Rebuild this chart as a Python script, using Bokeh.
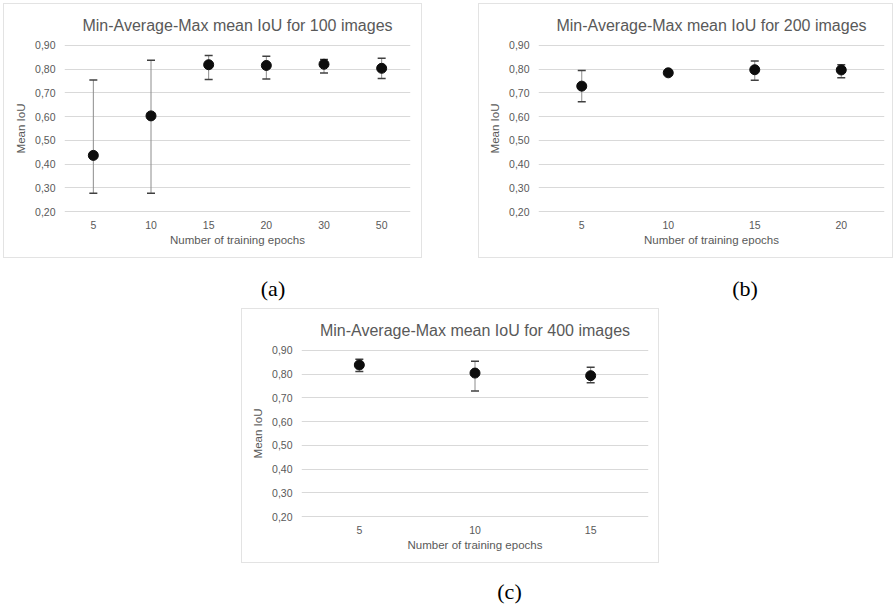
from bokeh.plotting import figure
from bokeh.models import (ColumnDataSource, Whisker, Range1d, Label, Spacer,
                          FactorRange, TeeHead)
from bokeh.layouts import row, column
from bokeh.embed import file_html
from bokeh.resources import INLINE

# ---------------- data ----------------
epochs_100 = ["5", "10", "15", "20", "30", "50"]
mean_100 = [0.437, 0.603, 0.818, 0.815, 0.820, 0.803]
min_100 = [0.278, 0.278, 0.756, 0.758, 0.783, 0.760]
max_100 = [0.754, 0.837, 0.857, 0.854, 0.840, 0.845]

epochs_200 = ["5", "10", "15", "20"]
mean_200 = [0.728, 0.784, 0.797, 0.796]
min_200 = [0.662, 0.781, 0.753, 0.763]
max_200 = [0.794, 0.787, 0.834, 0.818]

epochs_400 = ["5", "10", "15"]
mean_400 = [0.838, 0.804, 0.793]
min_400 = [0.811, 0.729, 0.763]
max_400 = [0.862, 0.854, 0.828]

titles = ["Min-Average-Max mean IoU for 100 images",
          "Min-Average-Max mean IoU for 200 images",
          "Min-Average-Max mean IoU for 400 images"]
captions = ["(a)", "(b)", "(c)"]
y_ticks = [0.2, 0.3, 0.4, 0.5, 0.6, 0.7, 0.8, 0.9]
y_tick_labels = ["0,20", "0,30", "0,40", "0,50", "0,60", "0,70", "0,80", "0,90"]
x_label = "Number of training epochs"
y_label = "Mean IoU"

FONT = "Liberation Sans"
TEXT = "#595959"
GRID = "#d9d9d9"
BORDER = "1px solid #e3e3e3"


def make_chart(cats, means, mins, maxs, title, width, left, right):
    p = figure(width=width, height=255, x_range=FactorRange(*cats),
               y_range=Range1d(0.197, 0.903), output_backend="svg",
               toolbar_location=None, min_border_left=left,
               min_border_right=right, min_border_top=40,
               min_border_bottom=47, styles={"border": BORDER,
                                              "box-sizing": "border-box"})
    p.title.text = title
    p.title.text_font = FONT
    p.title.text_font_size = "16px"
    p.title.text_font_style = "normal"
    p.title.text_color = TEXT
    p.title.align = "center"
    p.title.standoff = 21
    p.outline_line_color = None
    p.xgrid.grid_line_color = None
    p.ygrid.grid_line_color = GRID
    p.ygrid.ticker = y_ticks
    p.yaxis.ticker = y_ticks
    p.yaxis.major_label_overrides = {t: l for t, l in zip(y_ticks, y_tick_labels)}
    for ax in (p.xaxis[0], p.yaxis[0]):
        ax.axis_line_color = None
        ax.major_tick_line_color = None
        ax.minor_tick_line_color = None
        ax.major_tick_out = 0
        ax.major_tick_in = 0
        ax.minor_tick_out = 0
        ax.minor_tick_in = 0
        ax.major_label_text_font = FONT
        ax.major_label_text_font_size = "10.5px"
        ax.major_label_text_color = TEXT
        ax.axis_label_text_font = FONT
        ax.axis_label_text_font_size = "11.5px"
        ax.axis_label_text_font_style = "normal"
        ax.axis_label_text_color = TEXT
    p.xaxis.major_label_standoff = 8
    p.xaxis.axis_label = x_label
    p.xaxis.axis_label_standoff = 2
    p.yaxis.major_label_standoff = 9
    p.yaxis.axis_label = y_label
    p.yaxis.axis_label_standoff = 5

    src = ColumnDataSource(dict(x=cats, mean=means, lo=mins, hi=maxs))
    w = Whisker(base="x", lower="lo", upper="hi", source=src,
                line_color="#8c8c8c", line_width=1,
                lower_head=TeeHead(size=8, line_color="#404040", line_width=1.5),
                upper_head=TeeHead(size=8, line_color="#404040", line_width=1.5))
    p.add_layout(w)
    p.scatter("x", "mean", source=src, size=10, color="#0d0d0d")
    return p


def make_caption(text, width, height, ycenter):
    c = figure(width=width, height=height, output_backend="svg",
               toolbar_location=None, x_axis_type=None, y_axis_type=None,
               min_border=0, outline_line_color=None,
               x_range=Range1d(0, 1), y_range=Range1d(0, 1))
    c.grid.visible = False
    c.add_layout(Label(x=width / 2, y=ycenter, x_units="screen",
                       y_units="screen", text=text, text_align="center",
                       text_baseline="middle", text_font="Liberation Serif",
                       text_font_size="22px", text_color="#000000"))
    return c


pa = make_chart(epochs_100, mean_100, min_100, max_100, titles[0], 419, 60, 13)
pb = make_chart(epochs_200, mean_200, min_200, max_200, titles[1], 415, 59, 10)
pc = make_chart(epochs_400, mean_400, min_400, max_400, titles[2], 418, 59, 12)

ca = make_caption(captions[0], 419, 50, 20)
cb = make_caption(captions[1], 415, 50, 20)
cc = make_caption(captions[2], 418, 45, 17)

top = row(column(pa, ca, spacing=0), Spacer(width=56), column(pb, cb, spacing=0),
          spacing=0)
bottom = row(Spacer(width=238), column(pc, cc, spacing=0), spacing=0)
layout = column(top, bottom, spacing=0,
                styles={"margin": "3px 0px 0px 3px"})

open("out.html", "w").write(file_html(layout, INLINE))
